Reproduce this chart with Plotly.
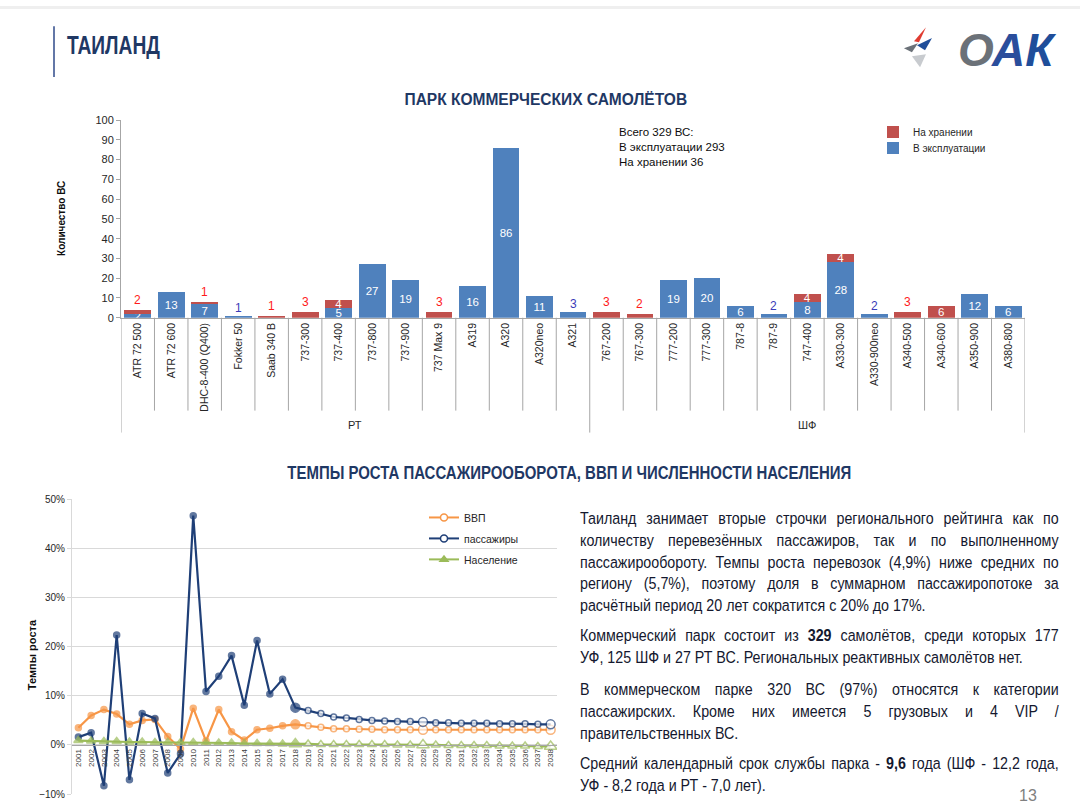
import json
import plotly.graph_objects as go

W, H = 1080, 809
# the captured picture shows the page slightly shifted/compressed vertically;
# these two numbers compensate that when converting reference pixels to paper units
Y_OFF, Y_SCALE = 4.8, 0.9866


def fx(p):
    return p / W


def fy(p):
    return 1 - ((p - Y_OFF) / Y_SCALE) / H


# ---------------- Data: commercial fleet ----------------
fleet_groups = ["РТ"] * 14 + ["ШФ"] * 13
aircraft_types = [
    "ATR 72 500", "ATR 72 600", "DHC-8-400 (Q400)", "Fokker 50", "Saab 340 B",
    "737-300", "737-400", "737-800", "737-900", "737 Max 9", "A319", "A320",
    "A320neo", "A321",
    "767-200", "767-300", "777-200", "777-300", "787-8", "787-9", "747-400",
    "A330-300", "A330-900neo", "A340-500", "A340-600", "A350-900", "A380-800",
]
in_service = [2, 13, 7, 1, 0, 0, 5, 27, 19, 0, 16, 86, 11, 3,
              0, 0, 19, 20, 6, 2, 8, 28, 2, 0, 0, 12, 6]
in_storage = [2, 0, 1, 0, 1, 3, 4, 0, 0, 3, 0, 0, 0, 0,
              3, 2, 0, 0, 0, 0, 4, 4, 0, 3, 6, 0, 0]
# where the value label of each segment is drawn ("in" / "above" / None)
in_service_label = ["in", "in", "in", "above", None, None, "in", "in", "in", None,
                    "in", "in", "in", "above",
                    None, None, "in", "in", "in", "above", "in", "in", "above",
                    None, None, "in", "in"]
in_storage_label = ["above", None, "above", None, "above", "above", "in", None, None,
                    "above", None, None, None, None,
                    "above", "above", None, None, None, None, "in", "in", None,
                    "above", "in", None, None]

# ---------------- Data: growth rates, % ----------------
years = [str(y) for y in range(2001, 2039)]
gdp_growth = [3.5, 6.0, 7.2, 6.3, 4.2, 5.0, 5.2, 1.7, -0.8, 7.5, 0.8, 7.2, 2.7, 1.0,
              3.1, 3.4, 3.9, 4.2,
              3.9, 3.6, 3.3, 3.3, 3.2, 3.2, 3.1, 3.1, 3.1, 3.1, 3.1, 3.1, 3.1, 3.1,
              3.1, 3.1, 3.1, 3.1, 3.1, 3.1]
pax_growth = [1.6, 2.5, -8.3, 22.4, -7.1, 6.4, 5.4, -5.7, -1.8, 46.7, 10.9, 14.0,
              18.2, 8.1, 21.3, 10.4, 13.4, 7.6,
              7.0, 6.4, 5.7, 5.5, 5.2, 5.0, 4.9, 4.8, 4.8, 4.7, 4.5, 4.5, 4.4, 4.4,
              4.4, 4.3, 4.3, 4.3, 4.2, 4.2]
pop_growth = [0.9, 0.8, 0.7, 0.7, 0.6, 0.6, 0.5, 0.5, 0.5, 0.5, 0.4, 0.4, 0.4, 0.3,
              0.3, 0.3, 0.2, 0.2,
              0.2, 0.1, 0.1, 0.1, 0.1, 0.1, 0.1, 0.0, 0.0, 0.0,
              0.0, -0.1, -0.1, -0.1, -0.1, -0.2, -0.2, -0.2, -0.3, -0.3]
last_actual_year = "2018"
label_years = ["2018", "2028", "2038"]

# ---------------- Styles ----------------
BLUE = "#4F81BD"
RED = "#C0504D"
NAVY = "#1F3864"
ORANGE = "#F79646"
DARKBLUE = "#1F3F77"
GREEN = "#9BBB59"
AXIS = "#A6A6A6"
GRID = "#D9D9D9"
TXT = "#262626"
SANS = "Liberation Sans, Arial, sans-serif"

fig = go.Figure()

# ---------------- Bar chart ----------------
fig.add_trace(go.Bar(
    x=aircraft_types, y=in_service, name="В эксплуатации",
    marker=dict(color=BLUE, line=dict(width=0)),
    text=[str(v) if p == "in" else "" for v, p in zip(in_service, in_service_label)],
    textposition="inside", insidetextanchor="middle", constraintext="none", textangle=0,
    textfont=dict(color="white", size=11.5, family=SANS),
    xaxis="x", yaxis="y", legend="legend3", hoverinfo="skip",
))
fig.add_trace(go.Bar(
    x=aircraft_types, y=in_storage, name="На хранении",
    marker=dict(color=RED, line=dict(width=0)),
    text=[str(v) if p == "in" else "" for v, p in zip(in_storage, in_storage_label)],
    textposition="inside", insidetextanchor="middle", constraintext="none", textangle=0,
    textfont=dict(color="white", size=11.5, family=SANS),
    xaxis="x", yaxis="y", legend="legend", hoverinfo="skip",
))

annotations = []
text_fx = {}  # annotation index -> post-render text fitting spec


def add_ann(spec=None, **kw):
    annotations.append(kw)
    if spec is not None:
        text_fx[str(len(annotations) - 1)] = spec


for i, name in enumerate(aircraft_types):
    total = in_service[i] + in_storage[i]
    if in_service_label[i] == "above":
        add_ann(x=name, y=total, xref="x", yref="y", text=str(in_service[i]),
                showarrow=False, yanchor="bottom", yshift=-1,
                font=dict(color="#3B3BB8", size=12, family=SANS))
    if in_storage_label[i] == "above":
        add_ann(x=name, y=total, xref="x", yref="y", text=str(in_storage[i]),
                showarrow=False, yanchor="bottom", yshift=1,
                font=dict(color="#FF1A1A", size=12, family=SANS))

# category separators and group labels
shapes = []
n = len(aircraft_types)
for k in range(n + 1):
    edge = k == 0 or k == n or fleet_groups[k] != fleet_groups[k - 1]
    shapes.append(dict(type="line", xref="x", yref="paper", x0=k - 0.5, x1=k - 0.5,
                       y0=fy(317), y1=fy(432 if edge else 410),
                       line=dict(color=AXIS, width=1)))
for g in dict.fromkeys(fleet_groups):
    idx = [i for i, gg in enumerate(fleet_groups) if gg == g]
    add_ann(x=sum(idx) / len(idx), y=fy(424), xref="x", yref="paper", yanchor="middle",
            text=g, showarrow=False, font=dict(size=11, color=TXT, family=SANS))

tot_serv = sum(in_service)
tot_stor = sum(in_storage)
add_ann(x=fx(617), y=fy(123), xref="paper", yref="paper", xanchor="left", yanchor="top",
        align="left", showarrow=False,
        text=f"Всего {tot_serv + tot_stor} ВС:<br>В эксплуатации {tot_serv}<br>На хранении {tot_stor}",
        font=dict(size=11.5, color="#0D0D0D", family=SANS))

add_ann(x=fx(62), y=fy(218), xref="paper", yref="paper", xanchor="center", yanchor="middle",
        text="<b>Количество ВС</b>", textangle=-90, showarrow=False,
        font=dict(size=10, color="#0D0D0D", family=SANS))

# ---------------- Line chart ----------------
def marker_style(color, base, big):
    cols = [color if y <= last_actual_year else "white" for y in years]
    sizes = [big if y in label_years else base for y in years]
    return dict(color=cols, size=sizes, line=dict(color=color, width=1.5))


fig.add_trace(go.Scatter(x=years, y=gdp_growth, mode="lines+markers", name="ВВП",
                         line=dict(color=ORANGE, width=2.2), marker=marker_style(ORANGE, 6, 9),
                         xaxis="x2", yaxis="y2", showlegend=False, hoverinfo="skip"))
fig.add_trace(go.Scatter(x=years, y=pax_growth, mode="lines+markers", name="пассажиры",
                         line=dict(color=DARKBLUE, width=2.2), marker=marker_style(DARKBLUE, 6, 9),
                         xaxis="x2", yaxis="y2", showlegend=False, hoverinfo="skip"))
mk = marker_style(GREEN, 8, 11)
mk["symbol"] = "triangle-up"
fig.add_trace(go.Scatter(x=years, y=pop_growth, mode="lines+markers", name="Население",
                         line=dict(color=GREEN, width=2.2), marker=mk,
                         xaxis="x2", yaxis="y2", showlegend=False, hoverinfo="skip"))

# legend entries (one legend box per entry to match the spacing)
line_legends = [("ВВП", ORANGE, "circle", "white", "legend2", 517),
                ("пассажиры", DARKBLUE, "circle", "white", "legend4", 538),
                ("Население", GREEN, "triangle-up", GREEN, "legend5", 559)]
for nm, col, sym, fill, lg, _ in line_legends:
    fig.add_trace(go.Scatter(x=[None], y=[None], mode="lines+markers", name=nm,
                             line=dict(color=col, width=2),
                             marker=dict(symbol=sym, size=7, color=fill, line=dict(color=col, width=1.5)),
                             xaxis="x2", yaxis="y2", legend=lg))

# value labels on the line chart
series_labels = [
    (pax_growth, "#7030A0", [(10, 13), (0, 22), (0, 24)]),
    (gdp_growth, "#FF7C80", [(-11, 9), (0, 19), (0, 16)]),
    (pop_growth, "#A5CF3C", [(0, 11), (0, 8), (0, 7)]),
]
for vals, col, shifts in series_labels:
    for yr, (dx, dy) in zip(label_years, shifts):
        v = vals[years.index(yr)]
        add_ann(x=yr, y=v, xref="x2", yref="y2", xshift=dx, yshift=dy,
                text=f"{v:.1f}%".replace(".", ","), showarrow=False,
                font=dict(size=8.5, color=col, family=SANS))

add_ann(x=fx(32), y=fy(655), xref="paper", yref="paper", xanchor="center", yanchor="middle",
        text="<b>Темпы роста</b>", textangle=-90, showarrow=False,
        font=dict(size=11, color="#0D0D0D", family=SANS))

# ---------------- Slide texts ----------------
add_ann(dict(mode="fit", target=93, anchor="start"),
        x=fx(65), y=fy(44), xref="paper", yref="paper", xanchor="left", yanchor="middle",
        align="left", text="<b>ТАИЛАНД</b>", showarrow=False,
        font=dict(size=25, color=NAVY, family=SANS))
add_ann(dict(mode="fit", target=283, anchor="middle"),
        x=fx(546), y=fy(98), xref="paper", yref="paper", xanchor="center", yanchor="middle",
        text="<b>ПАРК КОММЕРЧЕСКИХ САМОЛЁТОВ</b>", showarrow=False,
        font=dict(size=17, color=NAVY, family=SANS))
add_ann(dict(mode="fit", target=564, anchor="middle"),
        x=fx(569), y=fy(472), xref="paper", yref="paper", xanchor="center", yanchor="middle",
        text="<b>ТЕМПЫ РОСТА ПАССАЖИРООБОРОТА, ВВП И ЧИСЛЕННОСТИ НАСЕЛЕНИЯ</b>",
        showarrow=False, font=dict(size=18, color=NAVY, family=SANS))
add_ann(x=fx(1028), y=fy(795), xref="paper", yref="paper", xanchor="center", yanchor="middle",
        text="13", showarrow=False, font=dict(size=16, color="#808080", family=SANS))

BODY_LEFT, BODY_RIGHT = 578, 1057
body_lines = [
    (518, True, "Таиланд занимает вторые строчки регионального рейтинга как по"),
    (540, True, "количеству перевезённых пассажиров, так и по выполненному"),
    (562, True, "пассажирообороту. Темпы роста перевозок (4,9%) ниже средних по"),
    (583, True, "региону (5,7%), поэтому доля в суммарном пассажиропотоке за"),
    (605, False, "расчётный период 20 лет сократится с 20% до 17%."),
    (635, True, "Коммерческий парк состоит из <b>329</b> самолётов, среди которых 177"),
    (657, False, "УФ, 125 ШФ и 27 РТ ВС. Региональных реактивных самолётов нет."),
    (689, True, "В коммерческом парке 320 ВС (97%) относятся к категории"),
    (711, True, "пассажирских. Кроме них имеется 5 грузовых и 4 VIP /"),
    (733, False, "правительственных ВС."),
    (763, True, "Средний календарный срок службы парка - <b>9,6</b> года (ШФ - 12,2 года,"),
    (785, False, "УФ - 8,2 года и РТ - 7,0 лет)."),
]
for yy, justified, t in body_lines:
    spec = dict(mode="justify" if justified else "narrow", f=0.84,
                target=BODY_RIGHT - BODY_LEFT, anchor="start")
    add_ann(spec, x=fx(BODY_LEFT), y=fy(yy), xref="paper", yref="paper", xanchor="left",
            yanchor="middle", align="left", text=t, showarrow=False,
            font=dict(size=17, color="#14182E", family=SANS))

# logo
add_ann(x=fx(1058), y=fy(49), xref="paper", yref="paper", xanchor="right", yanchor="middle",
        text="<b><i><span style='color:#6B7178'>О</span>"
             "<span style='color:#2A4E9C'>А</span>"
             "<span style='color:#1F4E9A'>К</span></i></b>",
        showarrow=False, font=dict(size=46, family=SANS))


def tri(pts, color):
    d = "M " + " L ".join(f"{fx(a):.4f},{fy(b):.4f}" for a, b in pts) + " Z"
    return dict(type="path", xref="paper", yref="paper", path=d, fillcolor=color,
                line=dict(width=0))


shapes += [
    tri([(914, 40), (926, 26), (919, 41)], "#E03C31"),
    tri([(917, 44), (932, 37), (925, 49)], "#1F4E9A"),
    tri([(904, 47), (918, 42), (912, 51)], "#6B7178"),
    tri([(912, 55), (926, 53), (920, 66)], "#C8CBCF"),
]

# header decorations
shapes.append(dict(type="line", xref="paper", yref="paper", x0=fx(54), x1=fx(54),
                   y0=fy(25), y1=fy(76), line=dict(color="#2F4A8A", width=1.5)))
shapes.append(dict(type="rect", xref="paper", yref="paper", x0=0, x1=1, y0=1 - 3 / H, y1=1,
                   fillcolor="#EFEFEF", line=dict(width=0), layer="below"))

# ---------------- Layout ----------------
y2_dom = [fy(794), fy(499)]
y2_rng = [-10, 50]
zero_pos = y2_dom[0] + (0 - y2_rng[0]) / (y2_rng[1] - y2_rng[0]) * (y2_dom[1] - y2_dom[0])

legend_common = dict(xanchor="left", yanchor="middle", bgcolor="rgba(0,0,0,0)", itemwidth=30)
extra_legends = {lg: dict(x=fx(424), y=fy(yy), font=dict(size=10.5, color=TXT), **legend_common)
                 for _, _, _, _, lg, yy in line_legends}

fig.update_layout(
    width=W, height=H, margin=dict(l=0, r=0, t=0, b=0),
    paper_bgcolor="white", plot_bgcolor="white",
    barmode="stack", bargap=0.2,
    font=dict(family=SANS, color=TXT),
    xaxis=dict(domain=[fx(121), fx(1025)], type="category", range=[-0.5, n - 0.5],
               anchor="y", tickangle=-90, tickfont=dict(size=10.5, color=TXT),
               showline=True, linecolor=AXIS, ticks="", showgrid=False, fixedrange=True),
    yaxis=dict(domain=[fy(317), fy(119)], range=[0, 100], dtick=10, anchor="x",
               showline=True, linecolor=AXIS, ticks="outside", ticklen=4, tickcolor=AXIS,
               showgrid=False, zeroline=False, tickfont=dict(size=11, color=TXT), fixedrange=True),
    xaxis2=dict(domain=[fx(72), fx(557)], type="category", range=[-0.5, len(years) - 0.5],
                anchor="free", position=zero_pos, tickangle=-90,
                tickfont=dict(size=8, color="#404040"), showline=True, linecolor=AXIS,
                ticks="", showgrid=False, fixedrange=True),
    yaxis2=dict(domain=y2_dom, range=y2_rng, dtick=10, ticksuffix="%", anchor="x2",
                showline=True, linecolor=GRID, ticks="outside", ticklen=4, tickcolor=GRID,
                showgrid=True, gridcolor=GRID, zeroline=False,
                tickfont=dict(size=10, color=TXT), fixedrange=True),
    legend=dict(x=fx(873), y=fy(131), font=dict(size=10, color=TXT), **legend_common),
    legend3=dict(x=fx(873), y=fy(147), font=dict(size=10, color=TXT), **legend_common),
    annotations=annotations,
    shapes=shapes,
    showlegend=True,
)
fig.update_layout(**extra_legends)

post_js = """
try {
  var gd0 = document.getElementById('{plot_id}');
  var de = document.documentElement, bd = document.body;
  de.style.margin = '0'; de.style.padding = '0'; de.style.overflow = 'hidden';
  bd.style.margin = '0'; bd.style.padding = '0'; bd.style.overflow = 'hidden';
} catch (e) {}
try {
  var gd = document.getElementById('{plot_id}');
  var specs = SPECS;
  gd.querySelectorAll('g.annotation').forEach(function (g) {
    var s = specs[g.getAttribute('data-index')];
    if (!s) return;
    var t = g.querySelector('text.annotation-text');
    if (!t) return;
    var nat = t.getComputedTextLength();
    if (!(nat > 0)) return;
    var f = s.f;
    if (s.mode === 'fit') f = s.target / nat;
    if (s.mode === 'justify') {
      var ns = (t.textContent.match(/ /g) || []).length;
      if (ns > 0) {
        t.style.wordSpacing = ((s.target / f - nat) / ns) + 'px';
      }
    }
    var bb = t.getBBox();
    var x0 = s.anchor === 'middle' ? bb.x + bb.width / 2 : bb.x;
    var prev = t.getAttribute('transform') || '';
    t.setAttribute('transform', prev + ' translate(' + x0 + ',0) scale(' + f + ',1) translate(' + (-x0) + ',0)');
  });
} catch (e) {}
""".replace("SPECS", json.dumps(text_fx))

fig.write_html("out.html", post_script=post_js, config={"displayModeBar": False})
